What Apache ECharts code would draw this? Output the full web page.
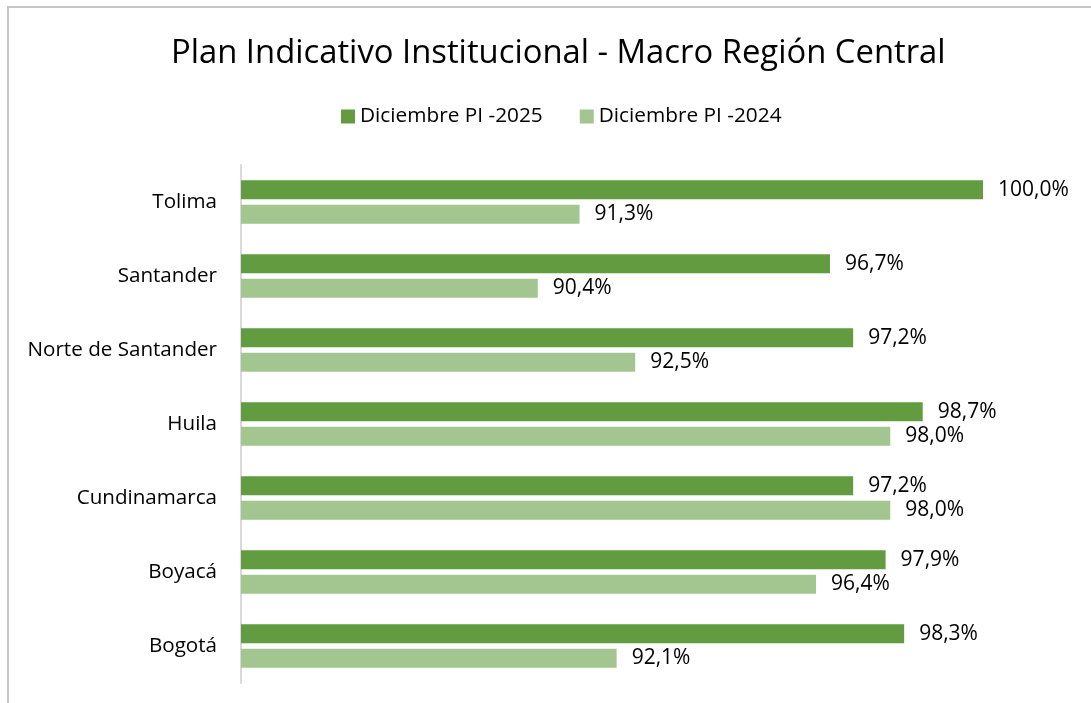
<!DOCTYPE html>
<html>
<head>
<meta charset="utf-8">
<script src="https://cdn.jsdelivr.net/npm/echarts@6/dist/echarts.min.js"></script>
<style>
  html, body { margin: 0; padding: 0; background: #fff; }
  #app { width: 1091px; height: 703px; }
  #frame { position: absolute; left: 7px; top: 6px; width: 1200px; height: 800px;
           border: 2px solid #c4c4c4; pointer-events: none; }
</style>
</head>
<body>
<div id="app"></div>
<div id="frame"></div>
<script>
var categories = ['Tolima', 'Santander', 'Norte de Santander', 'Huila', 'Cundinamarca', 'Boyacá', 'Bogotá'];
var pi2025 = [100.0, 96.7, 97.2, 98.7, 97.2, 97.9, 98.3];
var pi2024 = [91.3, 90.4, 92.5, 98.0, 98.0, 96.4, 92.1];

var myChart = echarts.init(document.getElementById('app'));
var fontFam = 'Open Sans';
var labelFmt = function (p) {
    return p.value.toFixed(1).replace('.', ',') + '%';
};
var option = {
    animation: false,
    title: {
        text: 'Plan Indicativo Institucional - Macro Región Central',
        left: 166,
        top: 32,
        textStyle: { fontFamily: fontFam, fontSize: 32.8, fontWeight: 'normal', color: '#000' }
    },
    legend: {
        top: 101,
        left: 336,
        itemWidth: 14,
        itemHeight: 14,
        itemGap: 37,
        icon: 'rect',
        textStyle: { fontFamily: fontFam, fontSize: 20.8, color: '#000' },
        data: ['Diciembre PI -2025', 'Diciembre PI -2024']
    },
    grid: { left: 241, right: 108, top: 165, bottom: 20, containLabel: false },
    xAxis: {
        type: 'value',
        min: 84,
        max: 100,
        show: false
    },
    yAxis: {
        type: 'category',
        inverse: true,
        data: categories,
        axisLine: { lineStyle: { color: '#d9d9d9', width: 2 } },
        axisTick: { show: false },
        axisLabel: { margin: 24, fontFamily: fontFam, fontSize: 20.6, color: '#000' }
    },
    series: [{
        name: 'Diciembre PI -2025',
        type: 'bar',
        data: pi2025,
        barWidth: 19,
        barGap: '30%',
        itemStyle: { color: '#629b40' },
        label: { show: true, position: 'right', distance: 15, formatter: labelFmt,
                 fontFamily: fontFam, fontSize: 21, color: '#000' }
    }, {
        name: 'Diciembre PI -2024',
        type: 'bar',
        data: pi2024,
        barWidth: 19,
        itemStyle: { color: '#a3c58f' },
        label: { show: true, position: 'right', distance: 15, formatter: labelFmt,
                 fontFamily: fontFam, fontSize: 21, color: '#000' }
    }]
};
myChart.setOption(option);
</script>
</body>
</html>
